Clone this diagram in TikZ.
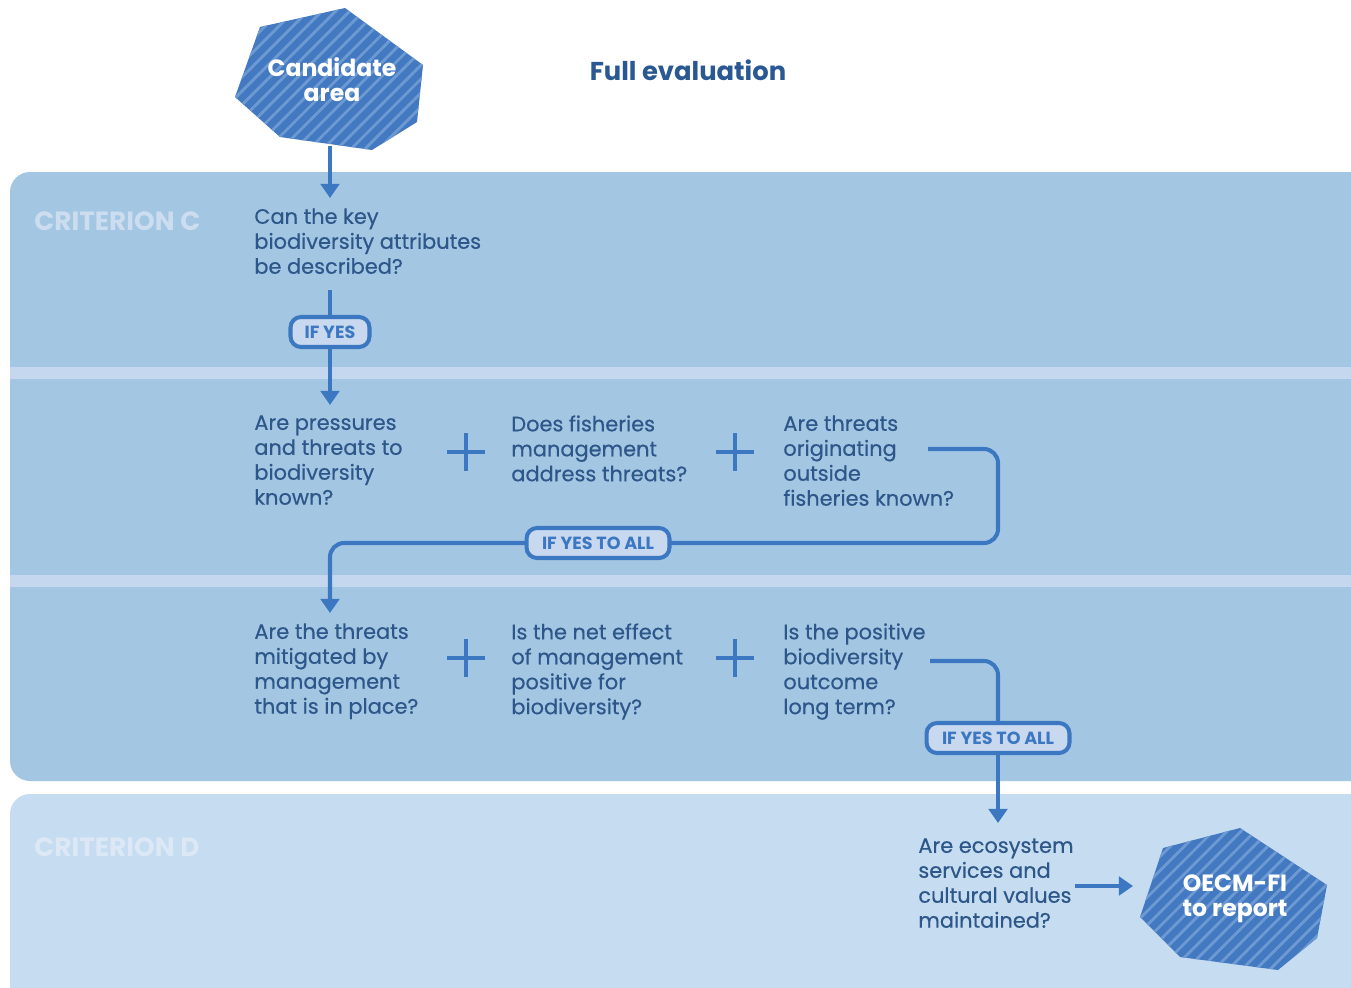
\documentclass[tikz,border=0pt]{standalone}
\usepackage{fontspec}
\setmainfont{Poppins}
\newfontfamily\qfont{Poppins}[FakeBold=0.4]
\usetikzlibrary{arrows.meta,patterns.meta}
\definecolor{bandC}{HTML}{A3C6E3}
\definecolor{stripeC}{HTML}{C4D7EE}
\definecolor{bandD}{HTML}{C6DCF0}
\definecolor{lineBlue}{HTML}{3C78C2}
\definecolor{textBlue}{HTML}{2D5689}
\definecolor{titleBlue}{HTML}{2A5892}
\definecolor{labelFill}{HTML}{C8D8EF}
\definecolor{hexBlue}{HTML}{4379C1}
\definecolor{hexStripe}{HTML}{6E9AD3}
\definecolor{critC}{HTML}{CCDDF0}
\definecolor{critD}{HTML}{DCE8F5}
\tikzset{
  flow line/.style={draw=lineBlue,line width=2.3pt,rounded corners=8pt},
  flow arrow/.style={flow line,-{Triangle[length=8pt,width=10.5pt]}},
  question/.style={anchor=north west,inner sep=0pt,align=left,text=textBlue,
    font=\qfont\fontsize{11.9}{14.2}\selectfont},
  yes label/.style={draw=lineBlue,line width=2.3pt,fill=labelFill,rounded corners=6pt,
    minimum height=0.6cm,inner sep=0pt,text=lineBlue,font=\bfseries\fontsize{10}{11}\selectfont},
  crit label/.style={anchor=west,inner sep=0pt,font=\bfseries\fontsize{15}{17}\selectfont},
  hex area/.style={fill=hexBlue,postaction={pattern={Lines[angle=45,distance=5.6pt,line width=1.6pt]},
    pattern color=hexStripe}},
  hex text/.style={align=center,text=white,inner sep=0pt,font=\bfseries\fontsize{13.4}{14.2}\selectfont},
  plus/.pic={\draw[draw=lineBlue,line width=2.8pt] (-19,0) -- (19,0) (0,-19) -- (0,19);}
}

\begin{document}
\begin{tikzpicture}[x=0.02cm,y=-0.02cm]
    \useasboundingbox (0,0) rectangle (1351,987);
    \clip (0,0) rectangle (1351,987);
    \fill[white] (0,0) rectangle (1351,987);
    % bands
    \fill[bandC,rounded corners=0.4cm] (10,172) rectangle (1420,781);
    \fill[stripeC] (10,367) rectangle (1420,379);
    \fill[stripeC] (10,575) rectangle (1420,587);
    \fill[bandD,rounded corners=0.4cm] (10,794) rectangle (1420,1060);
    \node[crit label,text=critC] (critc) at (34,221) {CRITERION C};
    \node[crit label,text=critD] (critd) at (34,847) {CRITERION D};
    \node[text=titleBlue,font=\bfseries\fontsize{14.7}{16}\selectfont] (title) at (688,70) {Full evaluation};

    % start and end shapes
    \path[hex area] (260,27) -- (345,8) -- (423,65) -- (417,122) -- (372,150) -- (280,137) -- (235,97) -- cycle;
    \node[hex text] (cand) at (332,80) {Candidate\\area};
    \path[hex area] (1163,848) -- (1240,828) -- (1327,885) -- (1317,938) -- (1278,970) -- (1180,957) -- (1140,917) -- cycle;
    \node[hex text] (report) at (1235,899) {OECM-FI\\to report};

    % questions
    \node[question] (q1) at (254,208) {Can the key\\biodiversity attributes\\be described?};
    \node[question] (q2a) at (254,415) {Are pressures\\and threats to\\biodiversity\\known?};
    \node[question] (q2b) at (511,415) {Does fisheries\\management\\address threats?};
    \node[question] (q2c) at (783,415) {Are threats\\originating\\outside\\fisheries known?};
    \node[question] (q3a) at (254,623) {Are the threats\\mitigated by\\management\\that is in place?};
    \node[question] (q3b) at (511,623) {Is the net effect\\of management\\positive for\\biodiversity?};
    \node[question] (q3c) at (783,623) {Is the positive\\biodiversity\\outcome\\long term?};
    \node[question] (q4) at (918,838) {Are ecosystem\\services and\\cultural values\\maintained?};
    \pic at (466,452) {plus};
    \pic at (735,452) {plus};
    \pic at (466,658) {plus};
    \pic at (735,658) {plus};

    \coordinate (candbot) at (330,146);
    \coordinate (out1) at (330,290);
    \coordinate (in2) at (330,405);
    \coordinate (out2) at (928,449);
    \coordinate (turn2) at (998,543);
    \coordinate (in3) at (330,613);
    \coordinate (out3) at (930,661);
    \coordinate (in4) at (998,823);
    \coordinate (out4) at (1075,886);
    \coordinate (in5) at (1133,886);

    % connectors
    \draw[flow arrow] (candbot) -- (330,198);
    \draw[flow line] (out1) -- (330,332);
    \draw[flow arrow] (330,332) -- (in2);
    \draw[flow arrow] (out2) -| (turn2) -| (in3);
    \draw[flow line] (out3) -| (998,738);
    \draw[flow arrow] (998,738) -- (in4);
    \draw[flow arrow] (out4) -- (in5);

    % labels
    \node[yes label,minimum width=1.58cm] (yes1) at (330,332) {IF YES};
    \node[yes label,minimum width=2.86cm] (yes2) at (598,543) {IF YES TO ALL};
    \node[yes label,minimum width=2.86cm] (yes3) at (998,738) {IF YES TO ALL};
  \end{tikzpicture}
\end{document}
